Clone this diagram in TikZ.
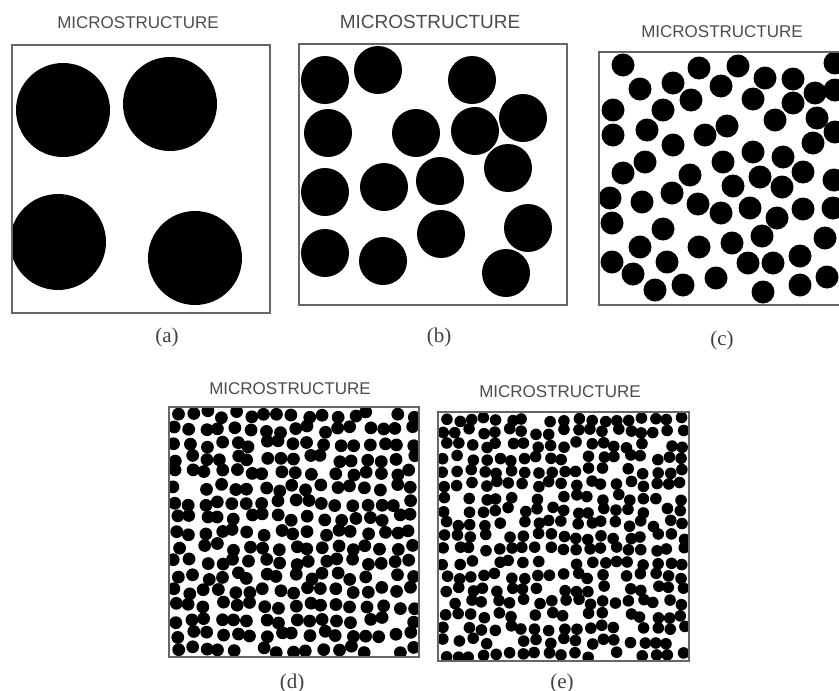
\documentclass[tikz,border=0pt]{standalone}
\usepackage{fontspec}
\setmainfont{Liberation Serif}
\setsansfont{Liberation Sans}
\usepackage{tikz}

\begin{document}
\begin{tikzpicture}[x=1pt,y=-1pt,
  panel/.style={draw=black!60, line width=1.3pt},
  grain/.style={fill=black},
  heading/.style={font=\sffamily\fontsize{17}{20}\selectfont, text=black!70, inner sep=0pt},
  tag/.style={font=\fontsize{21}{24}\selectfont, text=black!75, inner sep=0pt}
]
\clip (0,0) rectangle (839,691);
\fill[white] (0,0) rectangle (839,691);

% (a) four coarse grains
\node[heading] (titleA) at (138,23) {MICROSTRUCTURE};
\begin{scope}
  \clip (12,45) rectangle (270,313);
  \foreach \cx/\cy/\r in {63/110/47, 170/104/47, 58/242/48, 195/258/47}
    \fill[grain] (\cx,\cy) circle[radius=\r];
\end{scope}
\draw[panel] (12,45) rectangle (270,313);
\node[tag] (labA) at (167,337) {(a)};

% (b) sixteen grains
\node[heading, font=\sffamily\fontsize{19}{22}\selectfont] (titleB) at (430,22) {MICROSTRUCTURE};
\begin{scope}
  \clip (299,44) rectangle (567,305);
  \foreach \cx/\cy in {325/80, 378/70, 472/80, 328/133, 416/133, 475/131, 523/118,
      325/192, 384/187, 440/181, 508/168, 325/253, 383/261, 441/234, 528/228, 506/273}
    \fill[grain] (\cx,\cy) circle[radius=24];
\end{scope}
\draw[panel] (299,44) rectangle (567,305);
\node[tag] (labB) at (439,337) {(b)};

% (c) medium grains
\node[heading] (titleC) at (722,32) {MICROSTRUCTURE};
\begin{scope}
  \clip (599,52) rectangle (860,305);
  \foreach \cx/\cy in {623/65, 640/89, 673/83, 699/68, 721/86, 738/66, 765/78, 793/79, 835/63,
      613/110, 663/110, 691/100, 753/99, 793/103, 815/93, 835/90,
      613/135, 647/130, 705/135, 727/126, 775/120, 817/118, 835/132,
      673/145, 813/143, 753/152, 783/157, 723/162, 645/162,
      623/173, 690/175, 760/177, 803/172, 834/180, 733/186, 782/187,
      610/198, 642/202, 672/193, 698/204, 721/213, 750/208, 777/218, 803/209, 833/208,
      612/223, 663/229, 762/236, 825/238, 640/247, 699/247, 732/243,
      612/262, 667/262, 748/263, 773/263, 800/256,
      633/274, 655/290, 683/285, 716/278, 763/292, 800/285, 827/277}
    \fill[grain] (\cx,\cy) circle[radius=11.5];
\end{scope}
\draw[panel] (599,52) rectangle (860,305);
\node[tag] (labC) at (722,340) {(c)};

% (d) fine grains, jittered grid
\node[heading] (titleD) at (290,389) {MICROSTRUCTURE};
\pgfmathsetseed{4217}
\begin{scope}
  \clip (169,407) rectangle (419,657);
  \foreach \i in {0,...,16}
    \foreach \j in {0,...,16} {
      \pgfmathtruncatemacro{\keep}{rnd>0.1}
      \pgfmathsetmacro{\cx}{169+7.35+14.7*\i+3.6*rand}
      \pgfmathsetmacro{\cy}{407+7.35+14.7*\j+3.6*rand}
      \ifnum\keep=1 \fill[grain] (\cx,\cy) circle[radius=6.4]; \fi
    }
\end{scope}
\draw[panel] (169,407) rectangle (419,657);
\node[tag] (labD) at (292,683) {(d)};

% (e) finest grains, jittered grid
\node[heading] (titleE) at (560,392) {MICROSTRUCTURE};
\pgfmathsetseed{9031}
\begin{scope}
  \clip (438,412) rectangle (689,661);
  \foreach \i in {0,...,18}
    \foreach \j in {0,...,18} {
      \pgfmathtruncatemacro{\keep}{rnd>0.07}
      \pgfmathsetmacro{\cx}{438+6.6+13.2*\i+3.1*rand}
      \pgfmathsetmacro{\cy}{412+6.6+13.1*\j+3.1*rand}
      \ifnum\keep=1 \fill[grain] (\cx,\cy) circle[radius=5.8]; \fi
    }
\end{scope}
\draw[panel] (438,412) rectangle (689,661);
\node[tag] (labE) at (562,683) {(e)};
\end{tikzpicture}
\end{document}
